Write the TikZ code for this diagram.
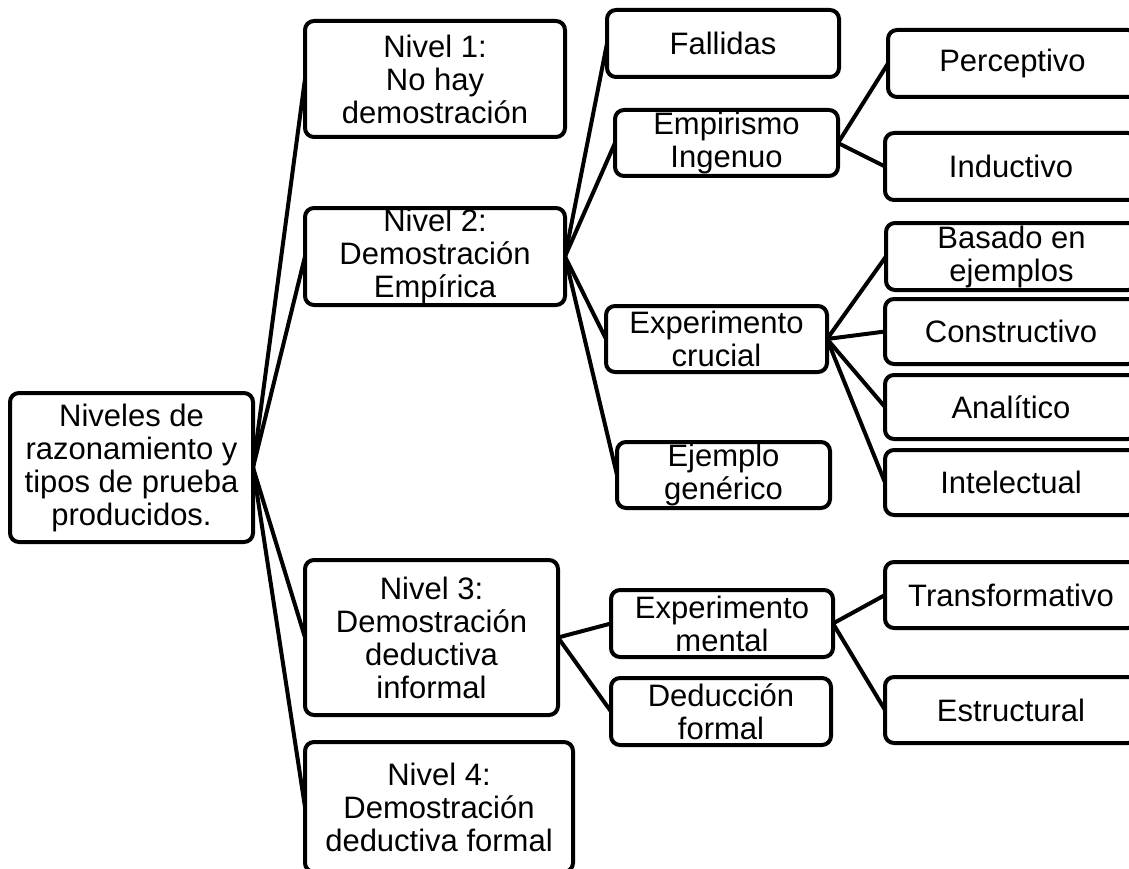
\documentclass[tikz,border=0pt]{standalone}
\usepackage{fontspec}
\setmainfont{Liberation Sans}
\begin{document}
\begin{tikzpicture}[x=1pt, y=-1pt,
  boxshape/.style={draw=black, fill=white, line width=4pt, rounded corners=9pt,
    inner sep=0pt, outer sep=0pt},
  boxtext/.style={align=center, inner sep=0pt,
    font=\fontsize{31}{33}\selectfont},
  link/.style={draw=black, line width=4pt}]

% page frame: content reaching past the right and bottom edges is cut off
\useasboundingbox (0,0) rectangle (1129,869);
\clip (0,0) rectangle (1129,869);

% \treebox{name}{left}{right}{top}{bottom}{text}
\newcommand\treebox[6]{%
  \node[boxshape, minimum width={#3-#2}, minimum height={#5-#4}]
    (#1) at ({(#2+#3)/2},{(#4+#5)/2}) {};
  \node[boxtext] (#1-t) at (#1.center) {#6};}

% boxes
\treebox{root}{10}{253}{393}{542}{Niveles de\\razonamiento y\\tipos de prueba\\producidos.}
\treebox{n1}{305}{565}{21}{137}{Nivel 1:\\No hay\\demostración}
\treebox{n2}{305}{565}{208}{305}{Nivel 2:\\Demostración\\Empírica}
\treebox{n3}{305}{558}{560}{715}{Nivel 3:\\Demostración\\deductiva\\informal}
\treebox{n4}{305}{573}{742}{872}{Nivel 4:\\Demostración\\deductiva formal}

\treebox{fal}{607}{839}{10}{77}{Fallidas}
\treebox{emp}{615}{838}{110}{176}{Empirismo\\Ingenuo}
\treebox{exc}{606}{827}{306}{372}{Experimento\\crucial}
\treebox{eje}{617}{830}{442}{508}{Ejemplo\\genérico}
\treebox{exm}{611}{833}{590}{657}{Experimento\\mental}
\treebox{ded}{611}{831}{678}{745}{Deducción\\formal}

\treebox{per}{888}{1137}{30}{97}{Perceptivo}
\treebox{ind}{885}{1137}{133}{200}{Inductivo}
\treebox{bas}{886}{1137}{223}{290}{Basado en\\ejemplos}
\treebox{con}{885}{1137}{299}{364}{Constructivo}
\treebox{ana}{885}{1137}{375}{439}{Analítico}
\treebox{int}{885}{1137}{450}{515}{Intelectual}
\treebox{tra}{885}{1137}{562}{628}{Transformativo}
\treebox{est}{885}{1137}{677}{743}{Estructural}

% connectors, parent east side to child west side
\foreach \c in {n1,n2,n3,n4} \draw[link] (root.east) -- (\c.west);
\foreach \c in {fal,emp,exc,eje} \draw[link] (n2.east) -- (\c.west);
\foreach \c in {per,ind} \draw[link] (emp.east) -- (\c.west);
\foreach \c in {bas,con,ana,int} \draw[link] (exc.east) -- (\c.west);
\foreach \c in {exm,ded} \draw[link] (n3.east) -- (\c.west);
\foreach \c in {tra,est} \draw[link] (exm.east) -- (\c.west);
\end{tikzpicture}
\end{document}
